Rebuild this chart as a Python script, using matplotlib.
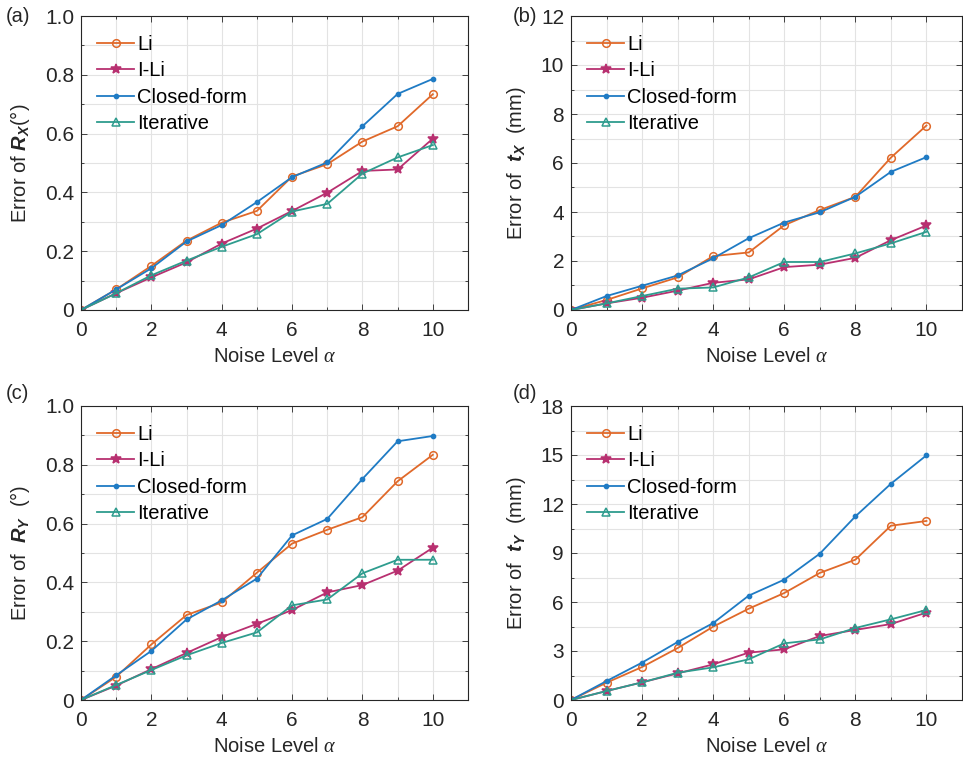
import matplotlib
matplotlib.use("Agg")
import matplotlib.pyplot as plt
from matplotlib.ticker import MultipleLocator, FuncFormatter

plt.rcParams['font.family'] = ['Liberation Sans', 'DejaVu Sans']
plt.rcParams['mathtext.fontset'] = 'custom'
plt.rcParams['mathtext.bf'] = 'Liberation Sans:bold:italic'
plt.rcParams['mathtext.it'] = 'Liberation Serif:italic'
plt.rcParams['mathtext.rm'] = 'Liberation Sans'

noise = [0, 1, 2, 3, 4, 5, 6, 7, 8, 9, 10]
series_names = ['Li', 'I-Li', 'Closed-form', 'Iterative']

# (a) Error of R_X (deg)
rx_li     = [0, 0.070, 0.150, 0.236, 0.297, 0.337, 0.454, 0.496, 0.573, 0.625, 0.734]
rx_ili    = [0, 0.057, 0.111, 0.162, 0.226, 0.277, 0.337, 0.399, 0.473, 0.478, 0.583]
rx_closed = [0, 0.070, 0.142, 0.233, 0.289, 0.367, 0.452, 0.502, 0.625, 0.735, 0.786]
rx_iter   = [0, 0.057, 0.118, 0.168, 0.215, 0.258, 0.335, 0.361, 0.464, 0.519, 0.561]

# (b) Error of t_X (mm)
tx_li     = [0, 0.41, 0.88, 1.33, 2.20, 2.35, 3.46, 4.08, 4.62, 6.22, 7.53]
tx_ili    = [0, 0.27, 0.50, 0.79, 1.11, 1.25, 1.75, 1.85, 2.13, 2.85, 3.45]
tx_closed = [0, 0.57, 0.99, 1.41, 2.11, 2.93, 3.57, 3.99, 4.62, 5.64, 6.24]
tx_iter   = [0, 0.27, 0.57, 0.87, 0.92, 1.33, 1.96, 1.96, 2.31, 2.72, 3.19]

# (c) Error of R_Y (deg)
ry_li     = [0, 0.079, 0.189, 0.289, 0.332, 0.433, 0.532, 0.579, 0.622, 0.744, 0.834]
ry_ili    = [0, 0.049, 0.105, 0.160, 0.214, 0.259, 0.306, 0.366, 0.391, 0.440, 0.518]
ry_closed = [0, 0.084, 0.167, 0.274, 0.339, 0.413, 0.560, 0.616, 0.752, 0.880, 0.898]
ry_iter   = [0, 0.051, 0.102, 0.152, 0.194, 0.230, 0.322, 0.342, 0.431, 0.477, 0.477]

# (d) Error of t_Y (mm)
ty_li     = [0, 1.06, 2.02, 3.18, 4.49, 5.59, 6.55, 7.78, 8.59, 10.67, 10.96]
ty_ili    = [0, 0.55, 1.08, 1.63, 2.18, 2.90, 3.10, 3.92, 4.29, 4.65, 5.35]
ty_closed = [0, 1.16, 2.29, 3.55, 4.71, 6.39, 7.37, 8.96, 11.24, 13.24, 14.98]
ty_iter   = [0, 0.55, 1.08, 1.67, 2.00, 2.49, 3.47, 3.71, 4.41, 4.94, 5.51]

colors = ['#E0692A', '#B83070', '#1F7BC4', '#2E9C8E']
markers = ['o', '*', '.', '^']
msizes = [5.5, 7, 6, 5.5]
fills = ['none', 'full', 'full', 'none']

W, H = 963, 761
fig = plt.figure(figsize=(W / 100, H / 100), dpi=100)

def box(l, r, t, b):
    return [l / W, 1 - b / H, (r - l) / W, (b - t) / H]

panels = [
    dict(rect=box(81, 468, 16, 310), data=[rx_li, rx_ili, rx_closed, rx_iter],
         ylim=(0, 1.0), major=0.2, minor=0.1,
         ylabel=r'Error of $\mathbf{R}_{\mathbf{X}}$(°)', tag='(a)', tagpos=(6, 16),
         fmt=lambda v: '0' if v == 0 else f'{v:.1f}'),
    dict(rect=box(571, 962, 16, 310), data=[tx_li, tx_ili, tx_closed, tx_iter],
         ylim=(0, 12), major=2, minor=1,
         ylabel=r'Error of  $\mathbf{t}_{\mathbf{X}}$  (mm)', tag='(b)', tagpos=(513, 16),
         fmt=lambda v: f'{v:g}'),
    dict(rect=box(81, 468, 406, 700), data=[ry_li, ry_ili, ry_closed, ry_iter],
         ylim=(0, 1.0), major=0.2, minor=0.1,
         ylabel=r'Error of  $\mathbf{R}_{\mathbf{Y}}$  (°)', tag='(c)', tagpos=(6, 394),
         fmt=lambda v: '0' if v == 0 else f'{v:.1f}'),
    dict(rect=box(571, 962, 406, 700), data=[ty_li, ty_ili, ty_closed, ty_iter],
         ylim=(0, 18), major=3, minor=1.5,
         ylabel=r'Error of  $\mathbf{t}_{\mathbf{Y}}$  (mm)', tag='(d)', tagpos=(513, 394),
         fmt=lambda v: f'{v:g}'),
]

for p in panels:
    ax = fig.add_axes(p['rect'])
    for name, ys, c, m, ms, fs in zip(series_names, p['data'], colors, markers, msizes, fills):
        ax.plot(noise, ys, color=c, marker=m, markersize=ms, fillstyle=fs,
                markeredgewidth=1.1, linewidth=1.3, label=name)
    ax.set_xlim(0, 11)
    ax.set_ylim(*p['ylim'])
    ax.xaxis.set_major_locator(MultipleLocator(2))
    ax.xaxis.set_minor_locator(MultipleLocator(1))
    ax.yaxis.set_major_locator(MultipleLocator(p['major']))
    ax.yaxis.set_minor_locator(MultipleLocator(p['minor']))
    ax.xaxis.set_major_formatter(FuncFormatter(lambda v, pos: f'{v:g}'))
    ax.yaxis.set_major_formatter(FuncFormatter(lambda v, pos, f=p['fmt']: f(round(v, 6))))
    ax.grid(True, which='major', color='#E3E3E3', linewidth=0.8)
    ax.grid(True, which='minor', color='#E3E3E3', linewidth=0.8)
    ax.set_axisbelow(True)
    ax.tick_params(which='both', direction='in', top=True, right=True, colors='#262626',
                   labelsize=15, labelcolor='#262626')
    ax.tick_params(axis='x', which='major', pad=8)
    ax.tick_params(axis='y', which='major', pad=5)
    ax.tick_params(which='major', length=4, width=0.6)
    ax.tick_params(which='minor', length=2.5, width=0.6)
    for s in ax.spines.values():
        s.set_color('#262626')
        s.set_linewidth(0.8)
    ax.set_xlabel(r'Noise Level $\it{\alpha}$', fontsize=14.5, color='#262626', labelpad=5)
    ax.set_ylabel(p['ylabel'], fontsize=14.5, color='#262626', labelpad=9)
    ax.legend(loc='upper left', frameon=False, fontsize=14.5, handlelength=1.85,
              handletextpad=0.15, labelspacing=0.36, borderaxespad=0.4,
              bbox_to_anchor=(0.0, 0.99))
    fig.text(p['tagpos'][0] / W, 1 - p['tagpos'][1] / H, p['tag'], fontsize=14.5,
             color='#262626', ha='left', va='center')

fig.savefig('out.png', dpi=100)
